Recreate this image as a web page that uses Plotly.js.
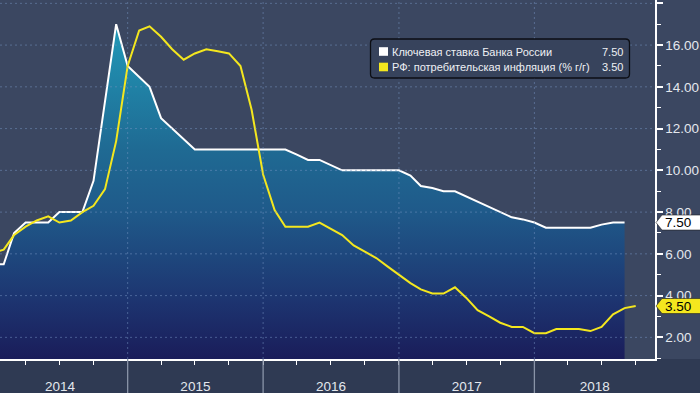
<!DOCTYPE html>
<html><head><meta charset="utf-8">
<script src="https://cdn.plot.ly/plotly-3.0.1.min.js"></script>
<style>html,body{margin:0;padding:0;background:#3b4761;overflow:hidden}#chart{width:700px;height:393px}</style>
</head><body><div id="chart"></div>
<script>
const months = ['2014-01','2014-02','2014-03','2014-04','2014-05','2014-06','2014-07','2014-08','2014-09','2014-10','2014-11','2014-12',
'2015-01','2015-02','2015-03','2015-04','2015-05','2015-06','2015-07','2015-08','2015-09','2015-10','2015-11','2015-12',
'2016-01','2016-02','2016-03','2016-04','2016-05','2016-06','2016-07','2016-08','2016-09','2016-10','2016-11','2016-12',
'2017-01','2017-02','2017-03','2017-04','2017-05','2017-06','2017-07','2017-08','2017-09','2017-10','2017-11','2017-12',
'2018-01','2018-02','2018-03','2018-04','2018-05','2018-06','2018-07','2018-08','2018-09','2018-10'];
const keyRate = [5.5,
5.5,7.0,7.5,7.5,7.5,8.0,8.0,8.0,9.5,13.25,17.0,
15.0,14.5,14.0,12.5,12.0,11.5,11.0,11.0,11.0,11.0,11.0,11.0,
11.0,11.0,11.0,10.75,10.5,10.5,10.25,10.0,10.0,10.0,10.0,10.0,
10.0,9.75,9.25,9.15,9.0,9.0,8.75,8.5,8.25,8.0,7.75,7.65,
7.5,7.25,7.25,7.25,7.25,7.25,7.4,7.5,7.5];
const inflation = [6.05,
6.2,6.9,7.3,7.6,7.8,7.5,7.6,8.0,8.3,9.1,11.4,
15.0,16.7,16.9,16.4,15.8,15.3,15.6,15.8,15.7,15.6,15.0,12.9,
9.8,8.1,7.3,7.3,7.3,7.5,7.2,6.9,6.4,6.1,5.8,5.4,
5.0,4.6,4.3,4.1,4.1,4.4,3.9,3.3,3.0,2.7,2.5,2.5,
2.2,2.2,2.4,2.4,2.4,2.3,2.5,3.1,3.4,3.5];
const seriesNames = ['Ключевая ставка Банка России','РФ: потребительская инфляция (% г/г)'];
const years = [2014,2015,2016,2017,2018];
const yTicks = [2,4,6,8,10,12,14,16,18];

const xRange = ['2014-01-22','2018-11-22'];
const yRange = [0.963,18.16];
const PW = 655, PH = 359;
const bg = '#3b4761', band = '#2f3a53', gridC = 'rgba(120,150,195,0.5)';
const yellow = '#f4e71e';
const P = (x,y)=> (x/PW).toFixed(5)+','+(1-y/PH).toFixed(5);
const px = x=>x/PW, py = y=>1-y/PH;

const traces = [
  {x:months, y:keyRate, type:'scatter', mode:'lines', name:seriesNames[0],
   line:{color:'#ffffff', width:2}, fill:'tozeroy',
   fillgradient:{type:'vertical', start:1, stop:17,
     colorscale:[[0,'#1a1d5a'],[0.17,'#1d3470'],[0.44,'#1f5a8a'],[0.625,'#1f6a93'],[1,'#2199b8']]},
   hoverinfo:'skip'},
  {x:months, y:inflation, type:'scatter', mode:'lines', name:seriesNames[1],
   line:{color:yellow, width:2}, hoverinfo:'skip'}
];

const shapes = [];
const annotations = [];
shapes.push({type:'rect', xref:'paper', yref:'paper', x0:-0.01, x1:1.1, y0:0, y1:-0.2, fillcolor:band, line:{width:0}, layer:'below'});
yTicks.forEach(v=>shapes.push({type:'line', xref:'paper', yref:'y', x0:0, x1:1, y0:v, y1:v, line:{color:gridC, width:1, dash:'2px,3px'}, layer:'above'}));
years.slice(1).forEach(y=>{
  const d = y+'-01-01';
  shapes.push({type:'line', xref:'x', yref:'paper', x0:d, x1:d, y0:0, y1:1, line:{color:gridC, width:1, dash:'2px,3px'}, layer:'above'});
  shapes.push({type:'line', xref:'x', yref:'paper', x0:d, x1:d, y0:0, y1:-0.12, line:{color:'#8a94a8', width:1.3}, layer:'above'});
});
const endMs = new Date(xRange[1]).getTime();
const tickvals = years.map(y=>{
  const s = Date.UTC(y,0,1), e = Math.min(Date.UTC(y+1,0,1), endMs);
  return new Date((s+e)/2).toISOString().replace('T',' ').slice(0,19);
});
const x0=370.5,x1=629.5,y0=39,y1=78,r=4;
shapes.push({type:'path', xref:'paper', yref:'paper', layer:'above',
  path:`M${P(x0+r,y0)} L${P(x1-r,y0)} Q${P(x1,y0)} ${P(x1,y0+r)} L${P(x1,y1-r)} Q${P(x1,y1)} ${P(x1-r,y1)} L${P(x0+r,y1)} Q${P(x0,y1)} ${P(x0,y1-r)} L${P(x0,y0+r)} Q${P(x0,y0)} ${P(x0+r,y0)} Z`,
  fillcolor:'#37435c', line:{color:'#0c0e14', width:1.3}});
const legColors = ['#ffffff', yellow];
const lastVals = [keyRate[keyRate.length-1], inflation[inflation.length-1]];
const legFont = {family:'Liberation Sans, Arial, sans-serif', size:11, color:'#eef0f4'};
[51.5, 67].forEach((cy,i)=>{
  shapes.push({type:'rect', xref:'paper', yref:'paper', layer:'above', x0:px(379), x1:px(388), y0:py(cy-4.3), y1:py(cy+4.3), fillcolor:legColors[i], line:{width:0}});
  annotations.push({xref:'paper', yref:'paper', x:px(391), y:py(cy), xanchor:'left', yanchor:'middle', showarrow:false,
    text:seriesNames[i], font:legFont, borderpad:0});
  annotations.push({xref:'paper', yref:'paper', x:px(624), y:py(cy), xanchor:'right', yanchor:'middle', showarrow:false,
    text:lastVals[i].toFixed(2), font:legFont, borderpad:0});
});
const tagH = 0.36;
lastVals.forEach((v,i)=>{
  shapes.push({type:'path', xref:'paper', yref:'y', layer:'above',
    path:`M${px(656)},${v} L${px(662)},${v+tagH} L${px(702)},${v+tagH} L${px(702)},${v-tagH} L${px(662)},${v-tagH} Z`,
    fillcolor:legColors[i], line:{color:'#202020', width:0.6}});
  annotations.push({xref:'paper', yref:'y', x:px(664), y:v, xanchor:'left', yanchor:'middle', showarrow:false,
    text:v.toFixed(2), font:{family:'Liberation Sans, Arial, sans-serif', size:13.5, color:'#000000'}, borderpad:0});
});

const layout = {
  width:700, height:393,
  margin:{l:0, r:45, t:0, b:34, pad:0},
  paper_bgcolor:bg, plot_bgcolor:bg,
  showlegend:false,
  font:{family:'Liberation Sans, Arial, sans-serif', color:'#e4e8ee', size:13},
  xaxis:{type:'date', range:xRange, tickmode:'array', tickvals:tickvals, ticktext:years.map(String),
    ticks:'', showgrid:false, zeroline:false, showline:true, linecolor:'#ffffff', linewidth:1.5,
    ticklabelstandoff:14, tickfont:{size:13.5, color:'#e4e8ee'},
    minor:{tickmode:'linear', tick0:'2014-01-01', dtick:'M3', ticks:'outside', ticklen:4, tickwidth:1, tickcolor:'#ffffff', showgrid:false}},
  yaxis:{side:'right', range:yRange, tickmode:'linear', tick0:0, dtick:2, tickformat:'.2f',
    ticks:'outside', ticklen:6, tickwidth:2, tickcolor:'#ffffff', showgrid:false, zeroline:false,
    showline:true, linecolor:'#ffffff', linewidth:1.5, tickfont:{size:13.5, color:'#e4e8ee'},
    minor:{tickmode:'linear', tick0:0, dtick:1, ticks:'outside', ticklen:4, tickwidth:1, tickcolor:'#ffffff', showgrid:false}},
  shapes:shapes, annotations:annotations
};
Plotly.newPlot('chart', traces, layout, {staticPlot:true, displayModeBar:false});
</script></body></html>
